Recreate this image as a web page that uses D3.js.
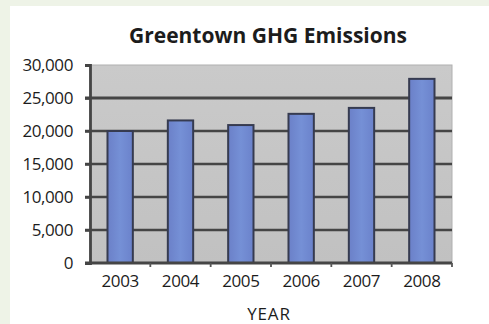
<!DOCTYPE html>
<html>
<head>
<meta charset="utf-8">
<script src="https://cdn.jsdelivr.net/npm/d3@7"></script>
<style>
  html, body { margin: 0; padding: 0; background: #eef3e7; }
  svg { display: block; }
</style>
</head>
<body>
<svg id="chart" width="489" height="324"></svg>
<script>
// Annual greenhouse gas emissions for Greentown
const years = ["2003", "2004", "2005", "2006", "2007", "2008"];
const emissions = [20000, 21600, 20900, 22600, 23500, 27900];
const yTicks = [0, 5000, 10000, 15000, 20000, 25000, 30000];
const titleText = "Greentown GHG Emissions";
const xTitle = "YEAR";

const svg = d3.select("#chart");
const W = 489, H = 324;
const plot = { left: 90, right: 452, top: 65, bottom: 263 };
const FONT = "'Open Sans', sans-serif";
const INK = "#1c1c1c";

// white card over the pale green page
svg.append("rect").attr("x", 10).attr("y", 6).attr("width", W - 10).attr("height", H - 6).attr("fill", "#ffffff");

const x = d3.scaleBand().domain(years).range([plot.left, plot.right]).paddingInner(0.58).paddingOuter(0.29);
const y = d3.scaleLinear().domain([0, 30000]).range([plot.bottom, plot.top]);

const defs = svg.append("defs");
const bg = defs.append("linearGradient").attr("id", "plotbg").attr("x1", 0).attr("y1", 0).attr("x2", 0).attr("y2", 1);
bg.append("stop").attr("offset", "0%").attr("stop-color", "#cacaca");
bg.append("stop").attr("offset", "100%").attr("stop-color", "#c1c1c1");

const barGrad = defs.append("linearGradient").attr("id", "barfill").attr("x1", 0).attr("y1", 0).attr("x2", 1).attr("y2", 0);
barGrad.append("stop").attr("offset", "0%").attr("stop-color", "#6b80c8");
barGrad.append("stop").attr("offset", "50%").attr("stop-color", "#7590d6");
barGrad.append("stop").attr("offset", "100%").attr("stop-color", "#6b82cb");

// plot area
svg.append("rect")
  .attr("x", plot.left).attr("y", plot.top)
  .attr("width", plot.right - plot.left).attr("height", plot.bottom - plot.top)
  .attr("fill", "url(#plotbg)")
  .attr("stroke", "#b0b0b0").attr("stroke-width", 1);

// horizontal gridlines with left tick marks
svg.append("g").selectAll("line").data(yTicks.filter(d => d > 0 && d < 30000)).join("line")
  .attr("x1", plot.left - 5).attr("x2", plot.right)
  .attr("y1", d => y(d)).attr("y2", d => y(d))
  .attr("stroke", "#454545").attr("stroke-width", d => d === 25000 ? 3.2 : 2.5);

// bars
svg.append("g").selectAll("rect").data(years).join("rect")
  .attr("x", d => x(d))
  .attr("y", (d, i) => y(emissions[i]))
  .attr("width", x.bandwidth())
  .attr("height", (d, i) => y(0) - y(emissions[i]))
  .attr("fill", "url(#barfill)")
  .attr("stroke", "#363b50").attr("stroke-width", 2);

// value axis
const yAxis = svg.append("g").attr("transform", `translate(${plot.left},0)`)
  .call(d3.axisLeft(y).tickValues(yTicks).tickSize(5).tickPadding(12).tickFormat(d3.format(",")));
yAxis.select(".domain").attr("stroke", "#454545").attr("stroke-width", 2.8);
yAxis.selectAll(".tick line").attr("stroke", "#454545").attr("stroke-width", 2.5);
yAxis.selectAll("text")
  .attr("font-family", FONT).attr("font-size", 17).attr("font-weight", 500)
  .attr("letter-spacing", -0.4)
  .attr("fill", INK);

// category axis
const xAxis = svg.append("g").attr("transform", `translate(0,${plot.bottom})`)
  .call(d3.axisBottom(x).tickSize(0).tickPadding(12));
xAxis.select(".domain").remove();
svg.append("line").attr("x1", plot.left - 5).attr("x2", plot.right)
  .attr("y1", plot.bottom).attr("y2", plot.bottom)
  .attr("stroke", "#454545").attr("stroke-width", 2.8);
// small separators between categories
svg.append("g").selectAll("line").data(years).join("line")
  .attr("x1", d => x(d) + x.bandwidth() / 2 + x.step() / 2)
  .attr("x2", d => x(d) + x.bandwidth() / 2 + x.step() / 2)
  .attr("y1", plot.bottom).attr("y2", plot.bottom + 4)
  .attr("stroke", "#555").attr("stroke-width", 1.8);
xAxis.selectAll("text")
  .attr("font-family", FONT).attr("font-size", 17).attr("font-weight", 500)
  .attr("letter-spacing", -0.4)
  .attr("fill", INK);

// titles
svg.append("text").attr("x", 268).attr("y", 43).attr("text-anchor", "middle")
  .attr("font-family", FONT).attr("font-weight", 700).attr("font-size", 21)
  .attr("fill", INK).text(titleText);
svg.append("text").attr("x", 269).attr("y", 320).attr("text-anchor", "middle")
  .attr("font-family", FONT).attr("font-size", 17).attr("font-weight", 500)
  .attr("letter-spacing", 0.8)
  .attr("fill", INK).text(xTitle);
</script>
</body>
</html>
